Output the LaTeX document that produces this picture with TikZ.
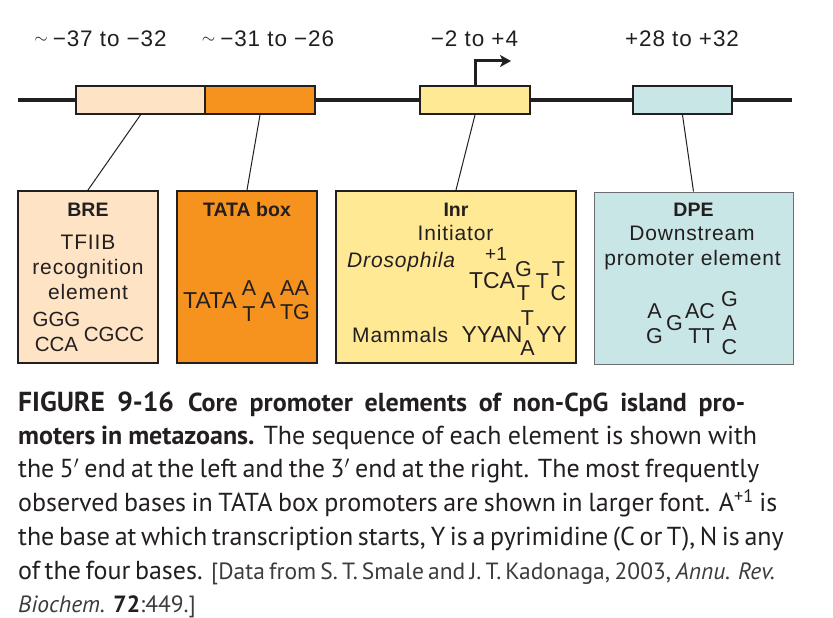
\documentclass[tikz,border=0pt]{standalone}
\usepackage{fontspec}
\setmainfont{Liberation Sans}
\newfontfamily\labf[LetterSpace=4]{Liberation Sans}
\newfontfamily\capf{PT Sans}
\usetikzlibrary{arrows.meta}
\definecolor{dark}{HTML}{231F20}
\definecolor{brefill}{HTML}{FEE4C4}
\definecolor{tatafill}{HTML}{F6921E}
\definecolor{inrfill}{HTML}{FFE994}
\definecolor{dpefill}{HTML}{C8E6E5}
\definecolor{dpeline}{HTML}{6D6E71}
\definecolor{citegray}{HTML}{3C3C3C}
\begin{document}
\begin{tikzpicture}[x=1pt,y=-1pt,
  genebox/.style={draw=dark,line width=1.8pt,inner sep=0pt,minimum height=28pt},
  infobox/.style={draw=dark,line width=2pt,inner sep=0pt,minimum height=172pt},
  link/.style={draw=dark,line width=1pt},
  toplab/.style={inner sep=0pt,anchor=base,text=dark,font=\labf\fontsize{22.5}{26}\selectfont},
  head/.style={inner sep=0pt,anchor=base,text=dark,font=\bfseries\fontsize{19.5}{23}\selectfont},
  lab/.style={inner sep=0pt,anchor=base,text=dark,font=\labf\fontsize{21}{25}\selectfont},
  seq/.style={inner sep=0pt,anchor=base,text=dark,font=\fontsize{23}{27}\selectfont},
  seqs/.style={inner sep=0pt,anchor=base,text=dark,font=\fontsize{21.5}{25}\selectfont},
  small/.style={inner sep=0pt,anchor=base west,text=dark,font=\fontsize{19}{22}\selectfont},
  capline/.style={inner sep=0pt,anchor=base west,text=dark,font=\capf\fontsize{26}{30}\selectfont},
  cite/.style={text=citegray}
]
\useasboundingbox (0,0) rectangle (833,618);
\fill[white] (0,0) rectangle (833,618);

% top labels
\newcommand{\tld}{\raisebox{3pt}{\fontsize{17}{17}\selectfont$\sim$}\hspace{5pt}}
\node[toplab] (l1) at (100.5,47) {\tld −37 to −32};
\node[toplab] (l2) at (268,47) {\tld −31 to −26};
\node[toplab] (l3) at (474.5,47) {−2 to +4};
\node[toplab] (l4) at (682,47) {+28 to +32};

% DNA line
\coordinate (dnaL) at (18,100);
\coordinate (dnaR) at (792,100);
\draw[dark,line width=3.5pt] (dnaL) -- (dnaR);

% gene boxes
\node[genebox,fill=brefill,minimum width=129pt] (gBRE) at (140.5,100) {};
\node[genebox,fill=tatafill,minimum width=110pt] (gTATA) at (260,100) {};
\node[genebox,fill=inrfill,minimum width=110pt] (gInr) at (475,100) {};
\node[genebox,fill=dpefill,minimum width=99pt] (gDPE) at (682.5,100) {};

% TSS arrow
\coordinate (tssEnd) at (511,61);
\draw[dark,line width=3pt,line join=miter,-{Stealth[length=11pt,width=12pt,inset=3pt]}] (gInr.north) |- (tssEnd);

% info boxes
\node[infobox,fill=brefill,minimum width=140pt] (iBRE) at (88,277) {};
\node[infobox,fill=tatafill,minimum width=140pt] (iTATA) at (247,277) {};
\node[infobox,fill=inrfill,minimum width=240pt] (iInr) at (456,277) {};
\node[infobox,draw=dpeline,line width=1pt,fill=dpefill,minimum width=199pt] (iDPE) at (693.5,278) {};

% connectors
\draw[link] (gBRE.south) -- (iBRE.north);
\draw[link] (gTATA.south) -- (iTATA.north);
\draw[link] (gInr.south) -- (iInr.north);
\draw[link] (gDPE.south) -- (iDPE.north);

% BRE text
\node[head] (hBRE) at (88,216.7) {BRE};
\node[lab] (b1) at (88,249.3) {TFIIB};
\node[lab] (b2) at (88,274) {recognition};
\node[lab] (b3) at (88,299) {element};
\node[seqs,font=\fontsize{20.5}{24}\selectfont] (b4) at (56.5,326.7) {GGG};
\node[seqs,font=\fontsize{20.5}{24}\selectfont] (b5) at (56.5,351.7) {CCA};
\node[seqs,font=\fontsize{20.5}{24}\selectfont] (b6) at (114,341) {CGCC};

% TATA text
\node[head] (hTATA) at (247,216.7) {TATA box};
\node[seq] (t1) at (210,308.3) {TATA};
\node[seqs] (t2) at (249,295) {A};
\node[seqs] (t3) at (249,321.7) {T};
\node[seq] (t4) at (268,308.3) {A};
\node[seqs] (t5) at (294.5,295) {AA};
\node[seqs] (t6) at (295,319.3) {TG};

% Inr text
\node[head] (hInr) at (456,216.7) {Inr};
\node[lab] (n1) at (455.5,240) {Initiator};
\node[lab,anchor=base west] (n2) at (347,267.7) {\itshape Drosophila};
\node[small] (n3) at (485,260.7) {+1};
\node[seq] (n4) at (492,288.3) {TCA};
\node[seqs] (n5) at (523.5,276.7) {G};
\node[seqs] (n6) at (523.5,300) {T};
\node[seqs] (n7) at (542.5,288.3) {T};
\node[seqs] (n8) at (558.5,276) {T};
\node[seqs] (n9) at (558.5,300) {C};
\node[lab,anchor=base west] (n10) at (352,342.3) {Mammals};
\node[seq] (n11) at (492,342.3) {YYAN};
\node[seqs] (n12) at (527.5,325.7) {T};
\node[seqs] (n13) at (527.5,355) {A};
\node[seq] (n14) at (551.5,342.3) {YY};

% DPE text
\node[head] (hDPE) at (693.5,216.7) {DPE};
\node[lab] (d1) at (692,240) {Downstream};
\node[lab] (d2) at (692.5,265) {promoter element};
\node[seqs] (d3) at (654.5,318.3) {A};
\node[seqs] (d4) at (654.5,343.3) {G};
\node[seqs] (d5) at (674.5,330) {G};
\node[seqs] (d6) at (700,318.3) {AC};
\node[seqs] (d7) at (701.5,343.3) {TT};
\node[seqs] (d8) at (729.5,306) {G};
\node[seqs] (d9) at (729.5,330) {A};
\node[seqs] (d10) at (729.5,354) {C};

% caption
\node[capline] (c1) at (18,411.7) {\makebox[727pt][s]{\bfseries{\fontsize{27.5}{30}\selectfont FIGURE 9-16}\hspace{14pt}Core promoter elements of non-CpG island pro-}};
\node[capline] (c2) at (18,444.5) {\makebox[739pt][s]{\textbf{moters in metazoans.} The sequence of each element is shown with}};
\node[capline] (c3) at (18,477.5) {\makebox[741pt][s]{the 5$'$ end at the left and the 3$'$ end at the right. The most frequently}};
\node[capline] (c4) at (18,511.5) {\makebox[759pt][s]{observed bases in TATA box promoters are shown in larger font. A\textsuperscript{+1} is}};
\node[capline] (c5) at (18,545) {\makebox[765pt][s]{the base at which transcription starts, Y is a pyrimidine (C or T), N is any}};
\node[capline] (c6) at (18,579) {\makebox[754pt][s]{of the four bases. {\color{citegray}\fontsize{23.5}{28}\selectfont [Data from S. T. Smale and J. T. Kadonaga, 2003, \textit{Annu. Rev.}}}};
\node[capline] (c7) at (18,612.5) {{\color{citegray}\fontsize{23.5}{28}\selectfont\textit{Biochem.} {\color{dark}\textbf{72}}:449.]}};
\end{tikzpicture}
\end{document}
